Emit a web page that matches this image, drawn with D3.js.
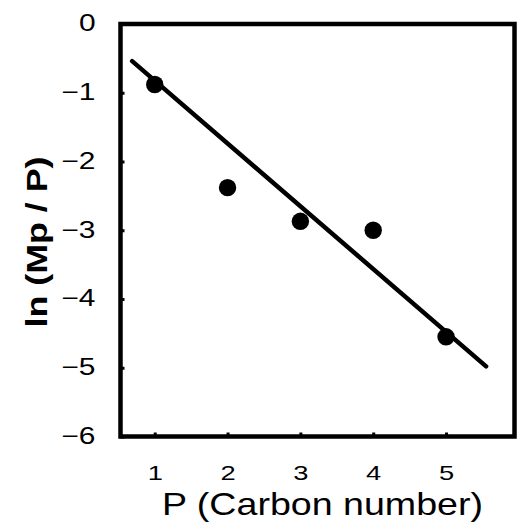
<!DOCTYPE html>
<html>
<head>
<meta charset="utf-8">
<script src="https://cdn.jsdelivr.net/npm/d3@7"></script>
<style>
    html, body { margin: 0; padding: 0; background: #fff; }
    svg { display: block; }
    text { font-family: "Liberation Sans", Arial, Helvetica, sans-serif; fill: #000; }
</style>
</head>
<body>
<div id="chart"></div>
<script>
//Datos
const carbonNumbers = [1, 2, 3, 4, 5];
const lnValues = [-0.88, -2.38, -2.87, -3.0, -4.55];
//Recta de ajuste (extremos)
const fitX = [0.69, 5.55];
const fitY = [-0.54, -4.98];
const xTicks = [1, 2, 3, 4, 5];
const yTicks = [0, -1, -2, -3, -4, -5, -6];

const COLOR_INK = '#000';
let width = 518, height = 531;
let box = {left: 120.5, right: 514.5, top: 24, bottom: 436.5};

let svg = d3.select('#chart')
    .append('svg')
    .attr('width', width)
    .attr('height', height);

let x = d3.scaleLinear()
    .domain([0.53, 5.94])
    .range([box.left, box.right]);

let y = d3.scaleLinear()
    .domain([-6, 0])
    .range([box.bottom, box.top]);

//Texto algo ensanchado como en el original
function stretch(sel, k) {
    sel.each(function() {
        let w = this.getComputedTextLength();
        d3.select(this).attr('textLength', w * k).attr('lengthAdjust', 'spacingAndGlyphs');
    });
}

//Eje X
let xAxis = svg.append('g')
    .attr('transform', 'translate(0,' + box.bottom + ')')
    .call(d3.axisBottom(x).tickValues(xTicks).tickFormat(d3.format('d'))
        .tickSizeInner(-4).tickSizeOuter(0).tickPadding(29));
xAxis.select('.domain').remove();
xAxis.selectAll('.tick line').attr('stroke', COLOR_INK).attr('stroke-width', 3);
xAxis.selectAll('.tick text').attr('font-size', 21);
stretch(xAxis.selectAll('.tick text'), 1.3);

//Eje Y
let yAxis = svg.append('g')
    .attr('transform', 'translate(' + box.left + ',0)')
    .call(d3.axisLeft(y).tickValues(yTicks).tickSizeInner(-4).tickSizeOuter(0).tickPadding(25)
        .tickFormat(function(d) { return d < 0 ? '\u2212' + Math.abs(d) : d; }));
yAxis.select('.domain').remove();
yAxis.selectAll('.tick line').attr('stroke', COLOR_INK).attr('stroke-width', 3);
yAxis.selectAll('.tick text').attr('font-size', 23).attr('dy', '0.3em');
stretch(yAxis.selectAll('.tick text'), 1.3);

//Marco
svg.append('rect')
    .attr('x', x.range()[0])
    .attr('y', y.range()[1])
    .attr('width', x.range()[1] - x.range()[0])
    .attr('height', y.range()[0] - y.range()[1])
    .attr('fill', 'none')
    .attr('stroke', COLOR_INK)
    .attr('stroke-width', 4.5);

//Recta
let line = d3.line()
    .x(function(d) { return x(d[0]); })
    .y(function(d) { return y(d[1]); });

svg.append('path')
    .datum(d3.zip(fitX, fitY))
    .attr('d', line)
    .attr('fill', 'none')
    .attr('stroke', COLOR_INK)
    .attr('stroke-width', 4.5)
    .attr('stroke-linecap', 'round');

//Puntos
svg.selectAll('.dot')
    .data(d3.zip(carbonNumbers, lnValues))
    .enter()
    .append('circle')
    .attr('class', 'dot')
    .attr('cx', function(d) { return x(d[0]); })
    .attr('cy', function(d) { return y(d[1]); })
    .attr('r', 8.7)
    .attr('fill', COLOR_INK);

//Títulos de ejes
svg.append('text')
    .attr('x', 162)
    .attr('y', 515)
    .attr('font-size', 32)
    .attr('textLength', 321)
    .attr('lengthAdjust', 'spacingAndGlyphs')
    .text('P (Carbon number)');

svg.append('text')
    .attr('transform', 'translate(47,242) rotate(-90)')
    .attr('text-anchor', 'middle')
    .attr('font-size', 30)
    .attr('font-weight', 'bold')
    .attr('textLength', 171)
    .attr('lengthAdjust', 'spacingAndGlyphs')
    .text('ln (Mp / P)');
</script>
</body>
</html>
